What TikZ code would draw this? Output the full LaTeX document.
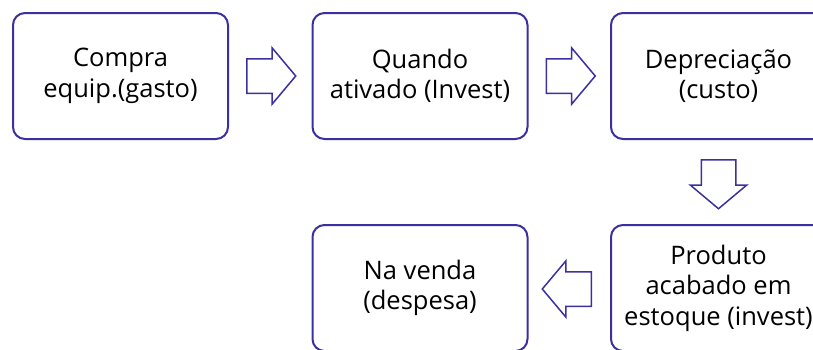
\documentclass[tikz,border=0pt]{standalone}
\usepackage{fontspec}
\setmainfont{Open Sans}
\usetikzlibrary{shapes.arrows,calc}
\definecolor{roxo}{RGB}{60,48,160}
\begin{document}
\begin{tikzpicture}[
    x=1pt, y=-1pt,
    etapa/.style={
        draw=roxo, line width=2pt, rounded corners=12pt,
        minimum width=215pt, minimum height=126pt,
        fill=white, align=center, inner sep=0pt,
        font=\fontsize{25.5}{30.5}\selectfont
    },
    seta/.style={
        single arrow, draw=roxo, line width=1.5pt, fill=white,
        inner sep=16.5pt, text height=0pt, text depth=0pt,
        minimum height=47pt, single arrow head extend=11pt,
        single arrow tip angle=100, anchor=tail
    }
]
\path[use as bounding box, clip] (0,0) rectangle (813,349);

% Linha de cima
\node[etapa] (compra) at (120.5,76) {Compra\\equip.(gasto)};
\node[etapa] (quando) at (420,76)   {Quando\\ativado (Invest)};
\node[etapa] (depre)  at (718.5,76) {Depreciação\\(custo)};

% Linha de baixo
\node[etapa] (produto) at (718.5,288) {Produto\\acabado em\\estoque (invest)};
\node[etapa] (venda)   at (420,288)   {Na venda\\(despesa)};

% Setas entre as etapas
\node[seta] (s1) at ($(compra.east)+(17,0)$) {};
\node[seta] (s2) at ($(quando.east)+(17,0)$) {};
\node[seta, shape border rotate=270] (s3) at ($(depre.south)+(0,19)$) {};
\node[seta, shape border rotate=180] (s4) at ($(produto.west)+(-18,1)$) {};

\end{tikzpicture}
\end{document}
